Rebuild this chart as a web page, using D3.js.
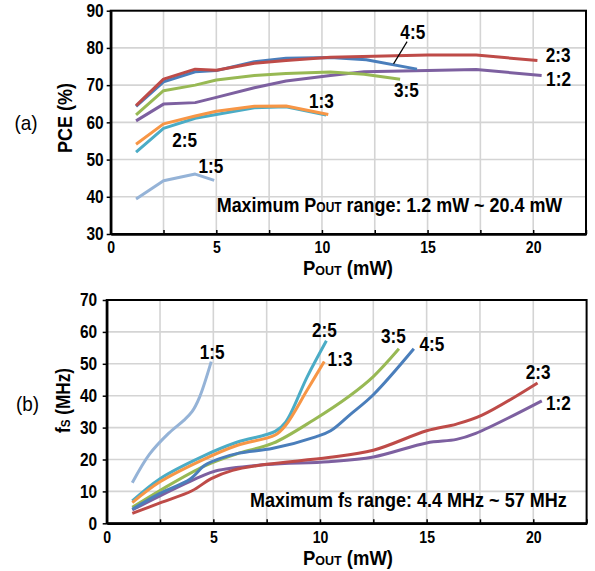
<!DOCTYPE html>
<html><head><meta charset="utf-8">
<script src="https://cdn.jsdelivr.net/npm/d3@7"></script>
<style>
body{margin:0;background:#fff}
svg{display:block}
text{font-family:"Liberation Sans",Arial,sans-serif;font-weight:bold;fill:#000}
</style>
</head><body>
<svg id="c" width="595" height="571"></svg>
<script>
// ---------- data ----------
const seriesNames = ["1:5","2:5","1:3","1:2","3:5","4:5","2:3"];
const seriesColors = {"4:5":"#4a7ebb","2:3":"#be4b48","3:5":"#98b954","1:2":"#7d60a0","1:3":"#f79646","2:5":"#4bacc6","1:5":"#95b3d7"};

const xGridValues = [0,2.5,5,7.5,10,12.5,15,17.5,20,22.5];
const xTickLabels = [0,5,10,15,20];
const pceTicks = [30,40,50,60,70,80,90];
const fsTicks = [0,10,20,30,40,50,60,70];

// (a) PCE (%) vs POUT (mW)
const pce45 = [[1.2,64.3],[2.5,70.9],[4.0,73.6],[5.0,73.9],[6.8,76.3],[8.3,77.2],[10.4,77.4],[12.1,76.8],[14.5,74.3]];
const pce23 = [[1.2,64.5],[2.5,71.6],[4.0,74.3],[5.0,74.0],[6.8,75.9],[8.3,76.6],[10.4,77.5],[15.0,78.1],[17.3,78.1],[20.2,76.6]];
const pce35 = [[1.2,62.0],[2.5,68.5],[4.0,70.0],[5.0,71.4],[6.8,72.6],[8.3,73.1],[10.4,73.5],[12.0,72.9],[13.7,71.6]];
const pce12 = [[1.2,60.4],[2.5,64.9],[4.0,65.3],[5.0,66.7],[6.8,69.3],[8.3,71.1],[10.4,72.6],[12.0,73.6],[15.0,73.9],[17.3,74.2],[20.4,72.6]];
const pce13 = [[1.2,54.1],[2.5,59.6],[4.0,61.7],[5.0,63.0],[6.8,64.3],[8.3,64.4],[10.3,62.1]];
const pce25 = [[1.2,52.0],[2.5,58.4],[4.0,61.1],[5.0,62.1],[6.8,63.9],[8.3,64.2],[10.2,62.0]];
const pce15 = [[1.2,39.4],[2.5,44.3],[4.0,46.1],[4.9,44.4]];

// (b) fS (MHz) vs POUT (mW)
const fs15 = [[1.2,12.7],[2.0,21.6],[2.9,28.2],[3.6,32.2],[4.0,35.0],[4.35,39.5],[4.9,50.7]];
const fs25 = [[1.2,7.0],[2.5,14.0],[4.5,21.0],[6.1,25.4],[7.9,28.8],[8.4,31.8],[9.4,45.9],[10.3,57.2]];
const fs13 = [[1.2,6.5],[2.5,13.0],[4.5,19.9],[6.1,24.4],[7.9,27.7],[8.4,30.8],[9.4,41.8],[10.2,50.7]];
const fs35 = [[1.2,5.0],[2.5,10.3],[4.6,18.0],[6.2,22.0],[7.8,25.1],[9.7,32.4],[11.4,40.0],[12.5,46.0],[13.7,54.7]];
const fs45 = [[1.2,4.4],[2.5,9.4],[3.9,13.8],[4.6,18.2],[5.3,20.3],[6.2,22.0],[7.8,23.5],[9.8,27.1],[10.5,29.0],[11.4,34.0],[12.5,40.3],[14.4,54.7]];
const fs12 = [[1.2,4.2],[2.5,8.6],[4.4,14.6],[5.1,16.4],[7.5,18.4],[10.4,19.3],[12.5,20.8],[15.0,25.2],[16.4,26.3],[17.3,28.2],[20.4,38.4]];
const fs23 = [[1.2,3.1],[2.5,6.4],[4.0,10.2],[4.9,14.0],[5.9,16.6],[7.5,18.5],[10.4,20.6],[12.5,22.9],[15.0,29.0],[16.4,31.1],[17.6,33.9],[20.2,44.0]];

// series label anchors in data units [x, y]
const pceLabels = {"4:5":[14.3,82.4],"2:3":[21.18,76.3],"1:2":[21.2,69.8],"3:5":[14.0,66.7],"1:3":[9.97,63.9],"2:5":[3.5,53.5],"1:5":[4.74,46.5]};
const fsLabels = {"2:5":[10.21,58.4],"1:3":[10.94,49.3],"1:5":[4.94,51.5],"3:5":[13.44,56.5],"4:5":[15.25,53.9],"2:3":[20.23,45.2],"1:2":[21.18,35.5]};
const pceLeader = [[14.03,81.7],[13.39,75.7]];

const pceData = {"4:5":pce45,"2:3":pce23,"3:5":pce35,"1:2":pce12,"1:3":pce13,"2:5":pce25,"1:5":pce15};
const fsData = {"4:5":fs45,"2:3":fs23,"3:5":fs35,"1:2":fs12,"1:3":fs13,"2:5":fs25,"1:5":fs15};

// ---------- drawing ----------
const svg = d3.select("#c");
const FONT = '"Liberation Sans",Arial,sans-serif';

function addText(parent, x, y, parts, opts){
  opts = opts || {};
  const g = parent.append("g");
  const t = g.append("text").attr("x",0).attr("y",0)
    .attr("text-anchor", opts.anchor || "start")
    .style("font-size", (opts.size||18)+"px")
    .style("font-weight", opts.weight || "bold");
  parts.forEach(p=>{
    const ts = t.append("tspan").text(p.t);
    if(p.size) ts.style("font-size", p.size+"px");
  });
  let sx = opts.sx || 1;
  if(opts.width) sx = opts.width / t.node().getBBox().width;
  const rot = opts.rotate ? ` rotate(${opts.rotate})` : "";
  g.attr("transform", `translate(${x},${y})${rot} scale(${sx},1)`);
  return g;
}

function panel(cfg){
  const x = d3.scaleLinear().domain([0,22.5]).range([cfg.x0,cfg.x1]);
  const y = d3.scaleLinear().domain(cfg.yDomain).range([cfg.y1,cfg.y0]);
  const g = svg.append("g");

  // grid
  g.append("g").selectAll("line").data(xGridValues.slice(1,-1)).join("line")
    .attr("x1",d=>x(d)).attr("x2",d=>x(d)).attr("y1",cfg.y0).attr("y2",cfg.y1)
    .attr("stroke","#d4d4d4").attr("stroke-width",1.6);
  g.append("g").selectAll("line").data(cfg.yTicks.slice(1,-1)).join("line")
    .attr("x1",cfg.x0).attr("x2",cfg.x1).attr("y1",d=>y(d)).attr("y2",d=>y(d))
    .attr("stroke","#d4d4d4").attr("stroke-width",1.6);

  // lines
  const line = d3.line().x(d=>x(d[0])).y(d=>y(d[1])).curve(cfg.curve);
  seriesNames.forEach(n=>{
    g.append("path").datum(cfg.data[n]).attr("d",line)
      .attr("fill","none").attr("stroke",seriesColors[n]).attr("stroke-width",3)
      .attr("stroke-linejoin","round").attr("stroke-linecap","butt");
  });

  // frame
  g.append("rect").attr("x",cfg.x0).attr("y",cfg.y0)
    .attr("width",cfg.x1-cfg.x0).attr("height",cfg.y1-cfg.y0)
    .attr("fill","none").attr("stroke","#000").attr("stroke-width",2);

  // x axis
  const ax = d3.axisBottom(x).tickValues(xGridValues).tickSizeInner(-4).tickSizeOuter(0)
    .tickPadding(8).tickFormat(d=> xTickLabels.includes(d) ? d : "");
  const axg = g.append("g").attr("transform",`translate(0,${cfg.y1})`).call(ax);
  axg.select(".domain").attr("stroke","#000").attr("stroke-width",2.5);
  axg.selectAll(".tick line").attr("stroke","#000").attr("stroke-width",1.5);
  axg.selectAll(".tick text").attr("x",0).attr("transform","scale(0.88,1)")
    .style("font-size","16px").style("font-family",FONT).style("font-weight","bold").attr("fill","#000");

  // y axis
  const ay = d3.axisLeft(y).tickValues(cfg.yTicks).tickSizeInner(4).tickSizeOuter(0).tickPadding(0);
  const ayg = g.append("g").attr("transform",`translate(${cfg.x0},0)`).call(ay);
  ayg.select(".domain").attr("stroke","#000").attr("stroke-width",2.5);
  ayg.selectAll(".tick line").attr("stroke","#000").attr("stroke-width",1.5);
  ayg.selectAll(".tick text").attr("x",0)
    .attr("transform",`translate(${-cfg.ypad},0) scale(0.86,1)`)
    .style("font-size","18px").style("font-family",FONT).style("font-weight","bold").attr("fill","#000");

  // series labels
  Object.entries(cfg.labels).forEach(([n,p])=>{
    addText(g, x(p[0]), y(p[1]), [{t:n}], {anchor:"middle", size:20, sx:0.86});
  });
  return {x,y,g};
}

const A = panel({x0:110.7,x1:586,y0:10.7,y1:234,yDomain:[30,90],yTicks:pceTicks,data:pceData,
  curve:d3.curveLinear,labels:pceLabels,ypad:7});
const B = panel({x0:106.7,x1:586.6,y0:300,y1:523.3,yDomain:[0,70],yTicks:fsTicks,data:fsData,
  curve:d3.curveCatmullRom.alpha(0.5),labels:fsLabels,ypad:9.5});

// 4:5 leader line
A.g.append("line")
  .attr("x1",A.x(pceLeader[0][0])).attr("y1",A.y(pceLeader[0][1]))
  .attr("x2",A.x(pceLeader[1][0])).attr("y2",A.y(pceLeader[1][1]))
  .attr("stroke","#000").attr("stroke-width",1.2);

// annotations
addText(svg, 216.7, 211.7, [{t:"Maximum P"},{t:"OUT",size:14},{t:" range: 1.2 mW ~ 20.4 mW"}], {size:21, width:346});
addText(svg, 250, 506.5, [{t:"Maximum f"},{t:"S",size:14},{t:" range: 4.4 MHz ~ 57 MHz"}], {size:21, width:317});

// axis titles
addText(svg, 348, 275, [{t:"P"},{t:"OUT",size:13.5},{t:" (mW)"}], {anchor:"middle", size:20, width:90});
addText(svg, 348, 565, [{t:"P"},{t:"OUT",size:13.5},{t:" (mW)"}], {anchor:"middle", size:20, width:90});
addText(svg, 72, 118, [{t:"PCE (%)"}], {anchor:"middle", size:20, width:70, rotate:-90});
addText(svg, 70, 400.5, [{t:"f"},{t:"S",size:13.5},{t:" (MHz)"}], {anchor:"middle", size:20, width:65, rotate:-90});

// panel tags
addText(svg, 26, 130, [{t:"(a)"}], {anchor:"middle", size:21, sx:0.9, weight:"normal"});
addText(svg, 27.5, 411, [{t:"(b)"}], {anchor:"middle", size:21, sx:0.9, weight:"normal"});
</script>
</body></html>
